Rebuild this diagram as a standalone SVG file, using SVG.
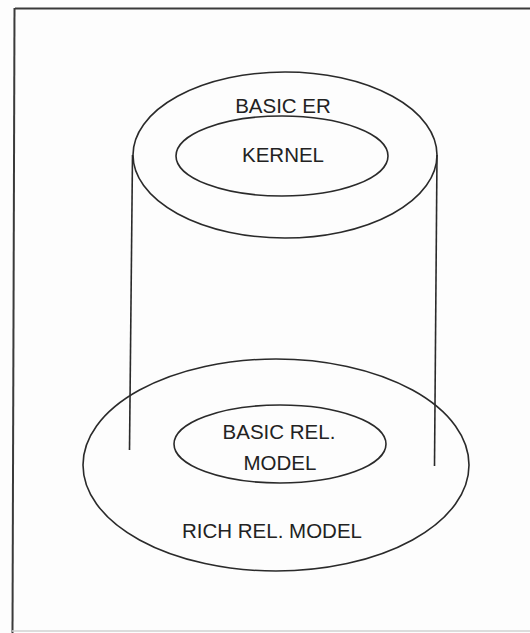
<svg xmlns="http://www.w3.org/2000/svg" width="530" height="633" viewBox="0 0 530 633">
  <style>
    .shape { fill: none; stroke: #2a2a2a; stroke-width: 1.6; }
    .frame { fill: none; stroke: #3a3a3a; stroke-width: 2; }
    .label { font-family: "Liberation Sans", Arial, sans-serif; font-size: 20.5px; fill: #222; text-anchor: middle; }
  </style>
  <rect width="530" height="633" fill="#fdfdfd"/>

  <!-- page frame -->
  <g id="frame">
    <line class="frame" x1="15" y1="8.5" x2="530" y2="8.5"/>
    <line class="frame" x1="14.5" y1="8" x2="12.5" y2="633"/>
    <line x1="12" y1="631" x2="530" y2="631" stroke="#d0d0d0" stroke-width="1.5"/>
  </g>

  <!-- cylinder sides linking the two levels -->
  <g id="connectors">
    <line class="shape" x1="132.5" y1="155" x2="129.5" y2="450"/>
    <line class="shape" x1="437" y1="155" x2="434.5" y2="466"/>
  </g>

  <g id="basic-er">
    <ellipse class="shape" cx="285" cy="155" rx="152" ry="83"/>
    <text class="label" x="283" y="113">BASIC ER</text>
  </g>

  <g id="kernel">
    <ellipse class="shape" cx="282" cy="156" rx="106" ry="40"/>
    <text class="label" x="283" y="162">KERNEL</text>
  </g>

  <g id="rich-rel-model">
    <ellipse class="shape" cx="276" cy="465" rx="193" ry="106"/>
    <text class="label" x="272" y="538">RICH REL. MODEL</text>
  </g>

  <g id="basic-rel-model">
    <ellipse class="shape" cx="280" cy="444" rx="106" ry="39"/>
    <text class="label" x="279" y="439">BASIC REL.</text>
    <text class="label" x="280" y="470">MODEL</text>
  </g>
</svg>
